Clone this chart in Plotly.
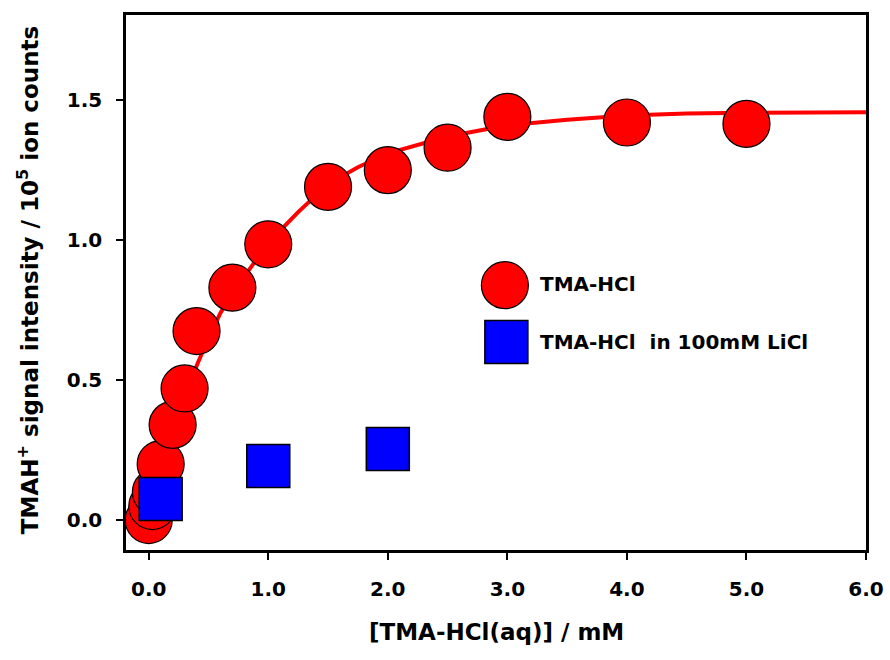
import plotly.graph_objects as go

# Data
tma_x = [0.0, 0.03, 0.06, 0.1, 0.2, 0.3, 0.4, 0.7, 1.0, 1.5, 2.0, 2.5, 3.0, 4.0, 5.0]
tma_y = [0.0, 0.05, 0.10, 0.20, 0.34, 0.47, 0.675, 0.83, 0.985, 1.19, 1.25, 1.33, 1.44, 1.42, 1.415]

licl_x = [0.1, 1.0, 2.0]
licl_y = [0.075, 0.193, 0.254]

fit_x = [0.0, 0.1, 0.2, 0.3, 0.4, 0.5, 0.6, 0.7, 0.8, 1.0, 1.25, 1.5, 1.75, 2.0, 2.5, 3.0, 3.5, 4.0, 4.5, 5.0, 6.0]
fit_y = [0.0, 0.16, 0.30, 0.43, 0.55, 0.65, 0.74, 0.81, 0.87, 0.99, 1.10, 1.20, 1.26, 1.31, 1.37, 1.41, 1.43, 1.445, 1.452, 1.455, 1.457]

x_ticks = [0.0, 1.0, 2.0, 3.0, 4.0, 5.0, 6.0]
x_tick_text = ["0.0", "1.0", "2.0", "3.0", "4.0", "5.0", "6.0"]
y_ticks = [0.0, 0.5, 1.0, 1.5]
y_tick_text = ["0.0", "0.5", "1.0", "1.5"]

legend_labels = ["TMA-HCl", "TMA-HCl  in 100mM LiCl"]

FONT = "DejaVu Sans"

fig = go.Figure()

fig.add_trace(go.Scatter(x=fit_x, y=fit_y, mode="lines",
                         line=dict(color="#FF0000", width=4),
                         showlegend=False, hoverinfo="skip"))
fig.add_trace(go.Scatter(x=tma_x, y=tma_y, mode="markers",
                         marker=dict(symbol="circle", size=47, color="#FF0000",
                                     line=dict(color="black", width=1.2)),
                         showlegend=False, cliponaxis=False))
fig.add_trace(go.Scatter(x=licl_x, y=licl_y, mode="markers",
                         marker=dict(symbol="square", size=43, color="#0000FF",
                                     line=dict(color="black", width=1.5)),
                         showlegend=False, cliponaxis=False))

# Legend glyphs on an overlay axis in paper-like units
fig.add_trace(go.Scatter(x=[0.512], y=[0.495], xaxis="x2", yaxis="y2", mode="markers",
                         marker=dict(symbol="circle", size=47, color="#FF0000",
                                     line=dict(color="black", width=1.2)),
                         showlegend=False, hoverinfo="skip"))
fig.add_trace(go.Scatter(x=[0.514], y=[0.389], xaxis="x2", yaxis="y2", mode="markers",
                         marker=dict(symbol="square", size=43, color="#0000FF",
                                     line=dict(color="black", width=1.5)),
                         showlegend=False, hoverinfo="skip"))

annotations = [
    dict(text=legend_labels[0], x=0.557, y=0.497, xref="paper", yref="paper",
         xanchor="left", yanchor="middle", showarrow=False,
         font=dict(family=FONT, size=20, color="black", weight="bold")),
    dict(text=legend_labels[1], x=0.557, y=0.389, xref="paper", yref="paper",
         xanchor="left", yanchor="middle", showarrow=False,
         font=dict(family=FONT, size=20, color="black", weight="bold")),
    dict(text="TMAH<sup>+</sup> signal intensity / 10<sup>5</sup> ion counts",
         x=-0.132, y=0.505, xref="paper", yref="paper", textangle=-90,
         xanchor="center", yanchor="middle", showarrow=False,
         font=dict(family=FONT, size=23, color="black", weight="bold")),
    dict(text="[TMA-HCl(aq)] / mM", x=0.5, y=-0.153, xref="paper", yref="paper",
         xanchor="center", yanchor="middle", showarrow=False,
         font=dict(family=FONT, size=23, color="black", weight="bold")),
]

fig.update_layout(
    width=890, height=660,
    margin=dict(l=126, r=24, t=15, b=110, autoexpand=False),
    paper_bgcolor="white", plot_bgcolor="white",
    showlegend=False,
    annotations=annotations,
    xaxis=dict(range=[-0.19, 6.0], tickvals=x_ticks, ticktext=x_tick_text,
               automargin=False,
               showgrid=False, zeroline=False, showline=True, linecolor="black",
               linewidth=2.5, mirror=True, ticks="outside", ticklen=7, tickwidth=2,
               tickcolor="black", ticklabelstandoff=12,
               tickfont=dict(family=FONT, size=20, color="black", weight="bold")),
    yaxis=dict(range=[-0.107, 1.804], tickvals=y_ticks, ticktext=y_tick_text,
               automargin=False,
               showgrid=False, zeroline=False, showline=True, linecolor="black",
               linewidth=2.5, mirror=True, ticks="outside", ticklen=7, tickwidth=2,
               tickcolor="black", ticklabelstandoff=10,
               tickfont=dict(family=FONT, size=20, color="black", weight="bold")),
    xaxis2=dict(domain=[0, 1], range=[0, 1], overlaying="x", visible=False,
                anchor="y2", fixedrange=True),
    yaxis2=dict(domain=[0, 1], range=[0, 1], overlaying="y", visible=False,
                anchor="x2", fixedrange=True),
)

fig.write_html("out.html",
               config={"displayModeBar": False},
               post_script="document.body.style.margin='0';document.body.style.padding='0';")
